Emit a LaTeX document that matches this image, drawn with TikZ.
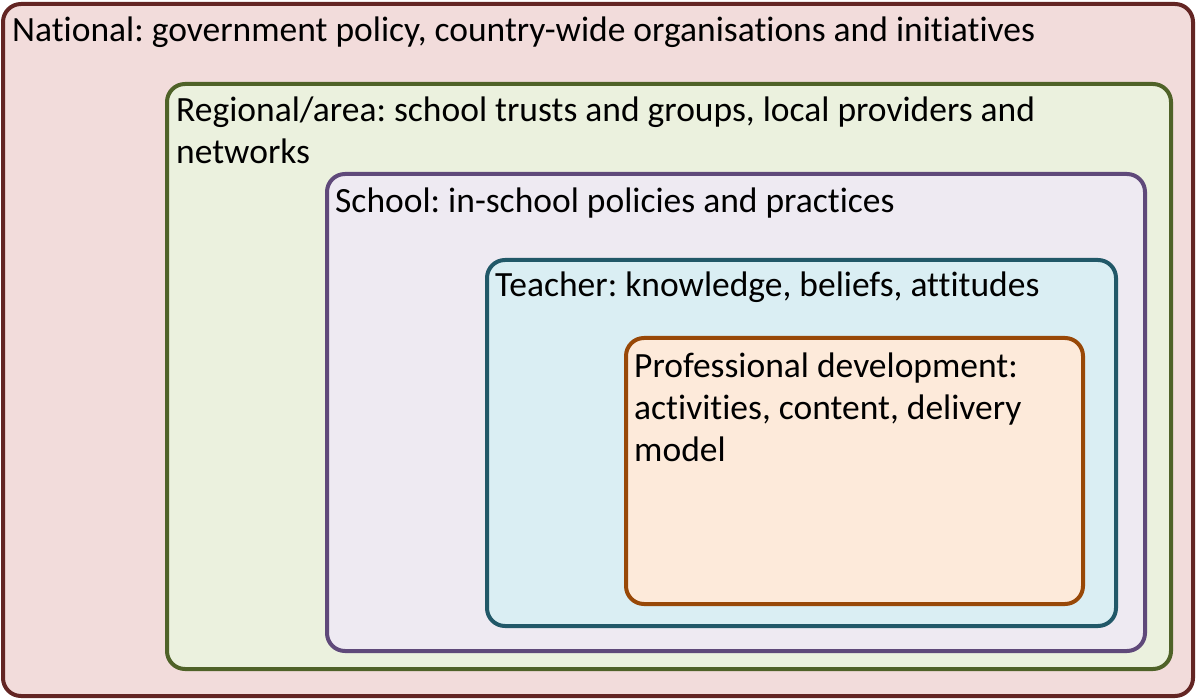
\documentclass[tikz,border=0pt]{standalone}
\usepackage{fontspec}
\setmainfont{Carlito}[Ligatures=NoCommon]
\usepackage{tikz}
\usetikzlibrary{positioning}

\definecolor{natline}{HTML}{632523}\definecolor{natfill}{HTML}{F2DCDB}
\definecolor{regline}{HTML}{4F6228}\definecolor{regfill}{HTML}{EBF1DE}
\definecolor{schline}{HTML}{5F497A}\definecolor{schfill}{HTML}{EEEAF2}
\definecolor{tealine}{HTML}{215868}\definecolor{teafill}{HTML}{DAEEF3}
\definecolor{pdline}{HTML}{984807}\definecolor{pdfill}{HTML}{FDEADA}

\begin{document}
\frenchspacing
\begin{tikzpicture}[x=1pt, y=-1pt,
    level/.style={draw=#1line, fill=#1fill, line width=4pt, rounded corners=18pt},
    lbl/.style={anchor=base west, inner sep=0pt, align=left,
      font=\fontsize{35.5}{42}\selectfont}]
		\useasboundingbox (0,0) rectangle (1196,700);

		% nested levels, outermost first
		\draw[level=nat] (3,4) rectangle (1193,696);
		\draw[level=reg] (167,84) rectangle (1171,669);
		\draw[level=sch] (327,174) rectangle (1145,651);
		\draw[level=tea] (487,260) rectangle (1116,626);
		\draw[level=pd] (626,338) rectangle (1083,604);

		% labels (base west = last line of the label)
		\node[lbl] (national) at (12,42) {National: government policy, country-wide organisations and initiatives};
		\node[lbl] (regional) at (176,164) {Regional/area: school trusts and groups, local providers and\\networks};
		\node[lbl] (school) at (335,213) {School: in-school policies and practices};
		\node[lbl] (teacher) at (495,297) {Teacher: knowledge, beliefs, attitudes};
		\node[lbl] (pd) at (634,461) {Professional development:\\activities, content, delivery\\model};
	\end{tikzpicture}
\end{document}
